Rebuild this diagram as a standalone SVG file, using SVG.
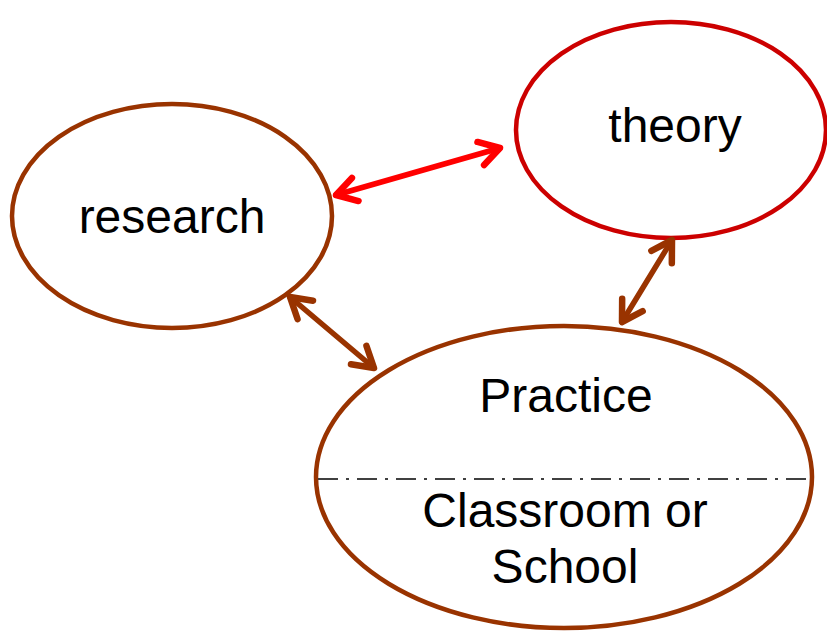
<svg xmlns="http://www.w3.org/2000/svg" width="827" height="632" viewBox="0 0 827 632">
<style>
.node{fill:#fff;stroke-width:4.5}
.brown{stroke:#993300}
.lbl{font-family:"Liberation Sans",Arial,sans-serif;font-size:48px;fill:#000;text-anchor:middle}
.conn{fill:none;stroke-width:5.5;stroke-linecap:round}
</style>
<defs>
<marker id="hr" markerUnits="userSpaceOnUse" viewBox="-30 -20 40 40" markerWidth="40" markerHeight="40" refX="0" refY="0" orient="auto-start-reverse">
<path d="M-20,-12 L0,0 L-20,12" fill="none" stroke="#ff0000" stroke-width="6.5" stroke-linecap="round" stroke-linejoin="round"/>
</marker>
<marker id="hb" markerUnits="userSpaceOnUse" viewBox="-30 -20 40 40" markerWidth="40" markerHeight="40" refX="0" refY="0" orient="auto-start-reverse">
<path d="M-20,-12 L0,0 L-20,12" fill="none" stroke="#993300" stroke-width="6.5" stroke-linecap="round" stroke-linejoin="round"/>
</marker>
</defs>
<g id="research">
<ellipse class="node brown" cx="172" cy="216" rx="160" ry="112"/>
<text class="lbl" x="172" y="233">research</text>
</g>
<g id="theory">
<ellipse class="node" stroke="#cc0000" cx="671" cy="130" rx="155" ry="108"/>
<text class="lbl" x="675" y="142">theory</text>
</g>
<g id="practice">
<ellipse class="node brown" cx="564" cy="477" rx="248" ry="151"/>
<line x1="318" y1="479" x2="810" y2="479" stroke="#404040" stroke-width="2" stroke-dasharray="20 8 3 8"/>
<text class="lbl" x="566" y="412">Practice</text>
<text class="lbl" x="565" y="527">Classroom or</text>
<text class="lbl" x="565" y="583">School</text>
</g>
<g id="connectors">
<line class="conn" stroke="#ff0000" x1="336" y1="195" x2="500" y2="148" marker-start="url(#hr)" marker-end="url(#hr)"/>
<line class="conn" stroke="#993300" x1="622" y1="322" x2="672" y2="240" marker-start="url(#hb)" marker-end="url(#hb)"/>
<line class="conn" stroke="#993300" x1="290" y1="297" x2="374" y2="368" marker-start="url(#hb)" marker-end="url(#hb)"/>
</g>
</svg>
